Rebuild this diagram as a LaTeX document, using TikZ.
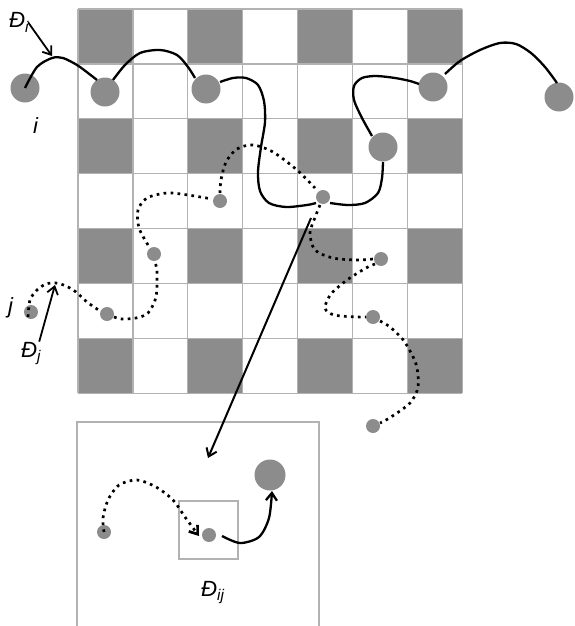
\documentclass[tikz,border=0pt]{standalone}
\usepackage{fontspec}
\setmainfont{Liberation Sans}
\usetikzlibrary{arrows.meta}
\definecolor{celda}{gray}{0.55}
\definecolor{rejilla}{gray}{0.70}
\newcommand{\Dsub}[1]{Đ\textsubscript{#1}}

\begin{document}
\begin{tikzpicture}[x=1pt, y=-1pt, >={Straight Barb[length=7.5pt, width=11pt]},
    every node/.style={font=\fontsize{22}{26}\selectfont\itshape, inner sep=0pt},
    bigdot/.style={circle, fill=celda, minimum size=29pt},
    smalldot/.style={circle, fill=celda, minimum size=14pt},
    traj/.style={line width=2.3pt},
    salto/.style={line width=2.7pt, dash pattern=on 2.7pt off 4.3pt}]
                \useasboundingbox (0,0) rectangle (575,626);

                % Tablero (celdas oscuras en filas y columnas pares)
                \foreach \r in {0,2,4,6}
                    \foreach \c in {0,2,4,6}
                        \fill[celda] ({78+54.9*\c},{9+54.9*\r}) rectangle +(54.9,54.9);
                \foreach \k in {0,...,7} {
                    \draw[rejilla, line width=1.3pt] ({78+54.9*\k},9) -- ({78+54.9*\k},393.3);
                    \draw[rejilla, line width=1.3pt] (78,{9+54.9*\k}) -- (462.3,{9+54.9*\k});
                }

                % Marco del detalle
                \draw[rejilla, line width=1.2pt] (77,626) -- (77,422) -- (319,422) -- (319,626);
                \draw[rejilla, line width=1.2pt] (179,501) rectangle (238,559);

                % Posiciones (circulos grandes y pequenos)
                \node[bigdot] (i) at (25,88) {};
                \node[bigdot] (b1) at (105,92) {};
                \node[bigdot] (b2) at (206,89) {};
                \node[bigdot] (b3) at (433,87) {};
                \node[bigdot] (b4) at (559,97) {};
                \node[bigdot] (b5) at (383,147) {};
                \node[smalldot] (j) at (31,312) {};
                \node[smalldot] (s0) at (323,197) {};
                \node[smalldot] (s1) at (220,201) {};
                \node[smalldot] (s2) at (154,254) {};
                \node[smalldot] (s3) at (107,314) {};
                \node[smalldot] (s4) at (381,259) {};
                \node[smalldot] (s5) at (373,317) {};
                \node[smalldot] (s6) at (373,426) {};

                % Trayectoria de i (linea continua)
                \draw[traj] plot[smooth] coordinates {(i.center) (37,67) (52,58) (63,58) (77,65) (88,73) (97,80)};
                \draw[traj] plot[smooth] coordinates {(113,80) (125,65) (140,53) (160,50) (177,55) (188,67) (195,78)};
                \draw[traj] plot[smooth] coordinates {(220,82) (233,78) (246,78) (258,85) (264,101) (265,122) (261,147) (258,172) (260,191) (269,203) (286,207) (307,205) (316,203)};
                \draw[traj] plot[smooth] coordinates {(330,203) (348,205) (365,203) (378,193) (382,178) (383,162)};
                \draw[traj] plot[smooth] coordinates {(372,136) (362,118) (354,100) (354,86) (362,78) (376,76) (395,78) (410,81) (419,84)};
                \draw[traj] plot[smooth] coordinates {(445,74) (460,61) (480,50) (500,43) (516,44) (531,53) (545,67) (557,83)};

                % Trayectoria de j (linea punteada)
                \draw[salto] plot[smooth] coordinates {(28,317) (30,300) (37,290) (46,284) (56,283) (66,286) (76,292) (87,302) (100,311)};
                \draw[salto] plot[smooth] coordinates {(114,317) (122,319) (136,318) (148,313) (156,297) (157,272) (155,262)};
                \draw[salto] plot[smooth] coordinates {(148,245) (139,228) (138,210) (147,198) (167,193) (188,195) (212,199)};
                \draw[salto] plot[smooth] coordinates {(220,193) (221,180) (226,162) (237,149) (253,145) (273,152) (297,170) (315,188)};
                \draw[salto] plot[smooth] coordinates {(320,205) (316,215) (310,233) (315,250) (333,258) (357,260) (373,259)};
                \draw[salto] plot[smooth] coordinates {(375,264) (366,268) (347,280) (331,294) (325,308) (334,315) (357,317) (366,317)};
                \draw[salto] plot[smooth] coordinates {(380,321) (390,327) (404,341) (416,364) (418,387) (410,403) (391,417) (380,423)};

                % Etiquetas
                \node[anchor=base west] (Di) at (9,28) {\Dsub{i}};
                \node[anchor=base west] (Dj) at (21,357) {\Dsub{j}};
                \node[anchor=base west] (Dij) at (201,596) {\Dsub{ij}};
                \node[anchor=base west] (li) at (33,133) {i};
                \node[anchor=base west] (lj) at (8,313) {j};
                \coordinate (Di tip) at (52,56);
                \coordinate (Dj tip) at (55,285);
                \draw[->, line width=1.8pt] ([xshift=-1pt]Di.east) -- (Di tip);
                \draw[->, line width=1.8pt] ([xshift=-2pt]Dj.north east) -- (Dj tip);

                % Flecha hacia el detalle
                \coordinate (zoom from) at (311,218);
                \coordinate (zoom to) at (208,458);
                \draw[->, line width=2pt] (zoom from) -- (zoom to);

                % Detalle: salto de j hacia i
                \node[smalldot] (inL) at (104,532) {};
                \node[smalldot] (inS) at (209,535) {};
                \node[bigdot, minimum size=31pt] (inB) at (270,475) {};
                \draw[salto, ->] plot[smooth] coordinates {(inL.center) (103,518) (108,500) (119,485) (137,480) (156,487) (173,500) (185,517) (199,536)};
                \draw[traj, ->] plot[smooth] coordinates {(222,536) (240,543) (259,537) (269,518) (272,491)};
\end{tikzpicture}
\end{document}
